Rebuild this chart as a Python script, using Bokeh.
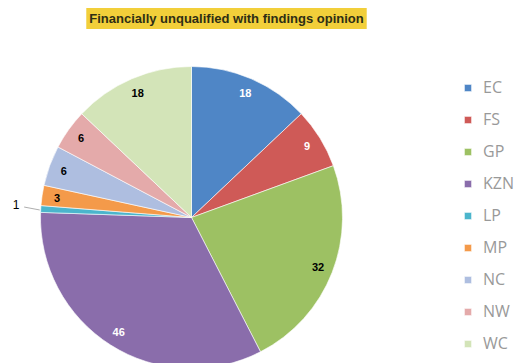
import math
from bokeh.plotting import figure
from bokeh.models import ColumnDataSource, Range1d, Label, Legend, LegendItem
from bokeh.embed import file_html
from bokeh.resources import INLINE

provinces = ["EC", "FS", "GP", "KZN", "LP", "MP", "NC", "NW", "WC"]
counts = [18, 9, 32, 46, 1, 3, 6, 6, 18]
colors = ["#4F86C6", "#CF5A57", "#9DC163", "#8A6DAB", "#4BB5CC",
          "#F49A4A", "#AEBEE0", "#E4AAAA", "#D3E4B8"]
label_colors = ["white", "white", "black", "white", "black",
                "black", "black", "black", "black"]
title_text = "Financially unqualified with findings opinion"

W, H = 514, 363
cx, cy, r = 191, H - 217, 151

total = sum(counts)
starts, ends, mids = [], [], []
cum = 0
for c in counts:
    a0 = math.pi / 2 - 2 * math.pi * cum / total
    cum += c
    a1 = math.pi / 2 - 2 * math.pi * cum / total
    starts.append(a0)
    ends.append(a1)
    mids.append((a0 + a1) / 2)

src = ColumnDataSource(dict(province=provinces, count=counts, color=colors,
                            start=starts, end=ends))

p = figure(width=W, height=H, x_range=Range1d(0, W), y_range=Range1d(0, H),
           min_border=0, outline_line_color=None, toolbar_location=None,
           output_backend="svg")
p.axis.visible = False
p.grid.visible = False
p.background_fill_color = "white"

wr = p.wedge(x=cx, y=cy, radius=r, start_angle="start", end_angle="end",
             direction="clock", fill_color="color", line_color="white",
             line_width=0.6, source=src)

# data labels
for i, (n, m) in enumerate(zip(counts, mids)):
    if provinces[i] == "LP":
        lx = cx + 1.11 * r * math.cos(m) - 8
        ly = cy + 1.11 * r * math.sin(m) + 4
        p.segment(x0=[cx + 1.0 * r * math.cos(m) - 1], y0=[cy + r * math.sin(m) - 1],
                  x1=[lx + 8], y1=[ly - 3], line_color="#999999", line_width=0.8)
        p.add_layout(Label(x=lx, y=ly, text=str(n), text_font="Liberation Sans",
                           text_font_size="12px", text_color="black",
                           text_align="center", text_baseline="middle"))
        continue
    lx = cx + 0.9 * r * math.cos(m)
    ly = cy + 0.9 * r * math.sin(m)
    p.add_layout(Label(x=lx, y=ly, text=str(n), text_font="Liberation Sans",
                       text_font_size="11px", text_font_style="bold",
                       text_color=label_colors[i], text_align="center",
                       text_baseline="middle"))

# title
p.add_layout(Label(x=226, y=H - 18, text=title_text, text_font="Liberation Sans",
                   text_font_size="13px", text_font_style="bold", text_color="#2e2e14",
                   text_align="center", text_baseline="middle",
                   background_fill_color="#F2CF3A", background_fill_alpha=1.0,
                   padding=3))

# legend
items = [LegendItem(label=prov, renderers=[wr], index=i) for i, prov in enumerate(provinces)]
legend = Legend(items=items, location=(463, 9), orientation="vertical",
                glyph_width=9, glyph_height=9, label_height=20, spacing=10,
                padding=0, margin=0, label_standoff=11,
                label_text_font="Open Sans", label_text_font_size="16px",
                label_text_color="#999999", background_fill_alpha=0,
                border_line_alpha=0)
p.add_layout(legend, "center")

open("out.html", "w").write(file_html(p, INLINE))
